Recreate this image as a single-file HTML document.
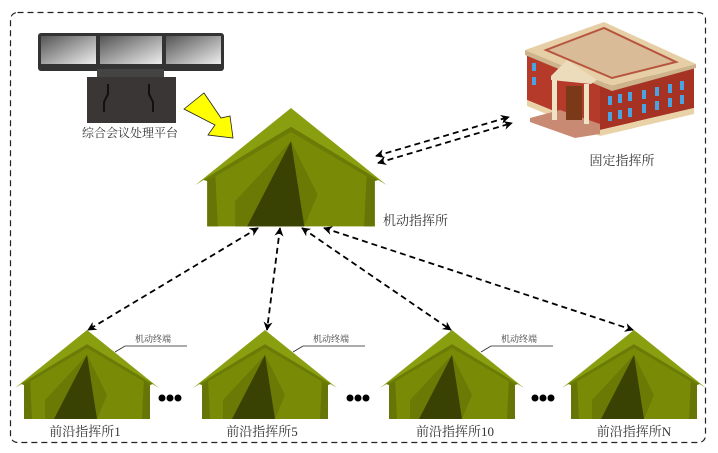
<!DOCTYPE html>
<html><head><meta charset="utf-8"><style>
html,body{margin:0;padding:0;background:#fff;}
svg{display:block;font-family:"Liberation Serif","Noto Serif CJK SC","Noto Sans CJK SC",serif;}
</style></head><body>
<svg width="718" height="453" viewBox="0 0 718 453" xmlns="http://www.w3.org/2000/svg">
<defs>
<marker id="ah" viewBox="0 0 10 10" refX="9" refY="5" markerWidth="9" markerHeight="9" orient="auto-start-reverse" markerUnits="userSpaceOnUse">
<path d="M0,0 L10,5 L0,10 L3,5 z" fill="#000"/></marker>
<linearGradient id="scr" x1="0" y1="0" x2="1" y2="1"><stop offset="0" stop-color="#555"/><stop offset="1" stop-color="#eee"/></linearGradient>
<g id="tent">
<polygon points="-63,52 0,14 63,52 63,89 -63,89" fill="#788a06"/>
<polygon points="-63,52 -57,49 -55,89 -63,89" fill="#667505"/>
<polygon points="63,52 57,49 55,89 63,89" fill="#667505"/>
<polygon points="0,25 -42,70 -42,89 0,89" fill="#6a7a05"/>
<polygon points="0,25 20,65 10,89 0,89" fill="#6a7a05"/>
<polygon points="0,25 -33,89 10,89" fill="#3a4203"/>
<polygon points="0,0 72,58 0,14 -72,58" fill="#8a9f10"/>
<polygon points="0,14 66,54 63,55 0,18 -63,55 -66,54" fill="#6b7c06"/>
</g>
</defs>
<rect x="10.5" y="12.5" width="695" height="430" rx="7" fill="none" stroke="#222" stroke-width="1.2" stroke-dasharray="6,4"/>

<rect x="38" y="33" width="186" height="38" rx="3" fill="#333"/>
<rect x="41" y="36" width="55" height="28" fill="url(#scr)"/>
<rect x="100" y="36" width="62" height="28" fill="url(#scr)"/>
<rect x="166" y="36" width="55" height="28" fill="url(#scr)"/>
<rect x="97" y="69" width="67" height="8" fill="#444"/>
<rect x="87" y="77" width="89" height="46" fill="#3a3636"/>
<path d="M108,84 v10 l-4,8 v10 M149,84 v10 l4,8 v10" stroke="#111" stroke-width="2" fill="none"/>
<text x="130" y="137" font-size="12" fill="#333" text-anchor="middle">综合会议处理平台</text>

<polygon points="184,109 204,93 221,118 230,116 233,138 208,135 215,125" fill="#ffff00" stroke="#222" stroke-width="0.8"/>

<polygon points="527,100 527,55 600,85 600,130" fill="#b53a2a"/>
<polygon points="600,85 694,68 694,108 600,130" fill="#a63224"/>
<polygon points="527,100 600,130 694,108 694,114 600,136 527,106" fill="#e9d2a8"/>
<polygon points="525,50 604,22 696,64 612,86" fill="#e6cfa6"/>
<polygon points="546,50 604,28 676,62 612,78" fill="#d9bb97" stroke="#b7553e" stroke-width="2"/>
<polygon points="525,50 612,86 612,91 525,55" fill="#cdb48c"/>
<polygon points="612,86 696,64 696,68 612,91" fill="#cdb48c"/>
<g fill="#4aa3e0">
<rect x="532" y="63" width="4" height="8"/><rect x="532" y="77" width="4" height="8"/>
<rect x="608" y="96" width="4" height="9"/><rect x="618" y="94" width="4" height="9"/><rect x="628" y="92" width="4" height="9"/><rect x="642" y="90" width="4" height="9"/><rect x="655" y="87" width="4" height="9"/><rect x="668" y="84" width="4" height="9"/><rect x="680" y="81" width="4" height="9"/>
<rect x="608" y="112" width="4" height="9"/><rect x="618" y="110" width="4" height="9"/><rect x="628" y="108" width="4" height="9"/><rect x="642" y="104" width="4" height="9"/><rect x="655" y="101" width="4" height="9"/><rect x="668" y="98" width="4" height="9"/><rect x="680" y="95" width="4" height="9"/>
</g>
<polygon points="530,118 560,110 600,124 600,134 575,138 530,122" fill="#c98a74"/>
<rect x="566" y="86" width="16" height="34" fill="#7a3a1a"/>
<polygon points="551,76 567,60 597,80 591,84 551,80" fill="#ecdcbc"/>
<rect x="552" y="80" width="5" height="40" fill="#efe3c5"/>
<rect x="584" y="84" width="5" height="40" fill="#efe3c5"/>
<text x="622" y="165" font-size="13" fill="#333" text-anchor="middle">固定指挥所</text>

<use href="#tent" transform="translate(291,108) scale(1.33)"/>
<text x="383" y="225" font-size="13" fill="#333">机动指挥所</text>

<g stroke="#000" stroke-width="1.8" stroke-dasharray="6,4" fill="none">
<line x1="376" y1="156" x2="509" y2="117" marker-start="url(#ah)" marker-end="url(#ah)"/>
<line x1="378" y1="163" x2="512" y2="123" marker-start="url(#ah)" marker-end="url(#ah)"/>
<line x1="258" y1="228" x2="88" y2="330" marker-start="url(#ah)" marker-end="url(#ah)"/>
<line x1="280" y1="228" x2="267" y2="330" marker-start="url(#ah)" marker-end="url(#ah)"/>
<line x1="302" y1="228" x2="451" y2="330" marker-start="url(#ah)" marker-end="url(#ah)"/>
<line x1="324" y1="228" x2="633" y2="330" marker-start="url(#ah)" marker-end="url(#ah)"/>
</g>

<use href="#tent" transform="translate(87,330)"/>
<use href="#tent" transform="translate(265,330)"/>
<use href="#tent" transform="translate(452,330)"/>
<use href="#tent" transform="translate(634,330)"/>

<g font-size="13" fill="#333" text-anchor="middle">
<text x="85" y="436">前沿指挥所1</text>
<text x="262" y="436">前沿指挥所5</text>
<text x="455" y="436">前沿指挥所10</text>
<text x="634" y="436">前沿指挥所N</text>
</g>

<g stroke="#222" stroke-width="0.8" fill="none">
<polyline points="115,352 125,346 187,346"/>
<polyline points="293,352 303,346 365,346"/>
<polyline points="481,352 491,346 553,346"/>
</g>
<g font-size="9" fill="#333">
<text x="135" y="342">机动终端</text>
<text x="313" y="342">机动终端</text>
<text x="501" y="342">机动终端</text>
</g>

<g fill="#000">
<circle cx="162" cy="398" r="3.5"/><circle cx="170" cy="398" r="3.5"/><circle cx="178" cy="398" r="3.5"/>
<circle cx="350" cy="398" r="3.5"/><circle cx="358" cy="398" r="3.5"/><circle cx="366" cy="398" r="3.5"/>
<circle cx="535" cy="398" r="3.5"/><circle cx="543" cy="398" r="3.5"/><circle cx="551" cy="398" r="3.5"/>
</g>
</svg>
</body></html>
